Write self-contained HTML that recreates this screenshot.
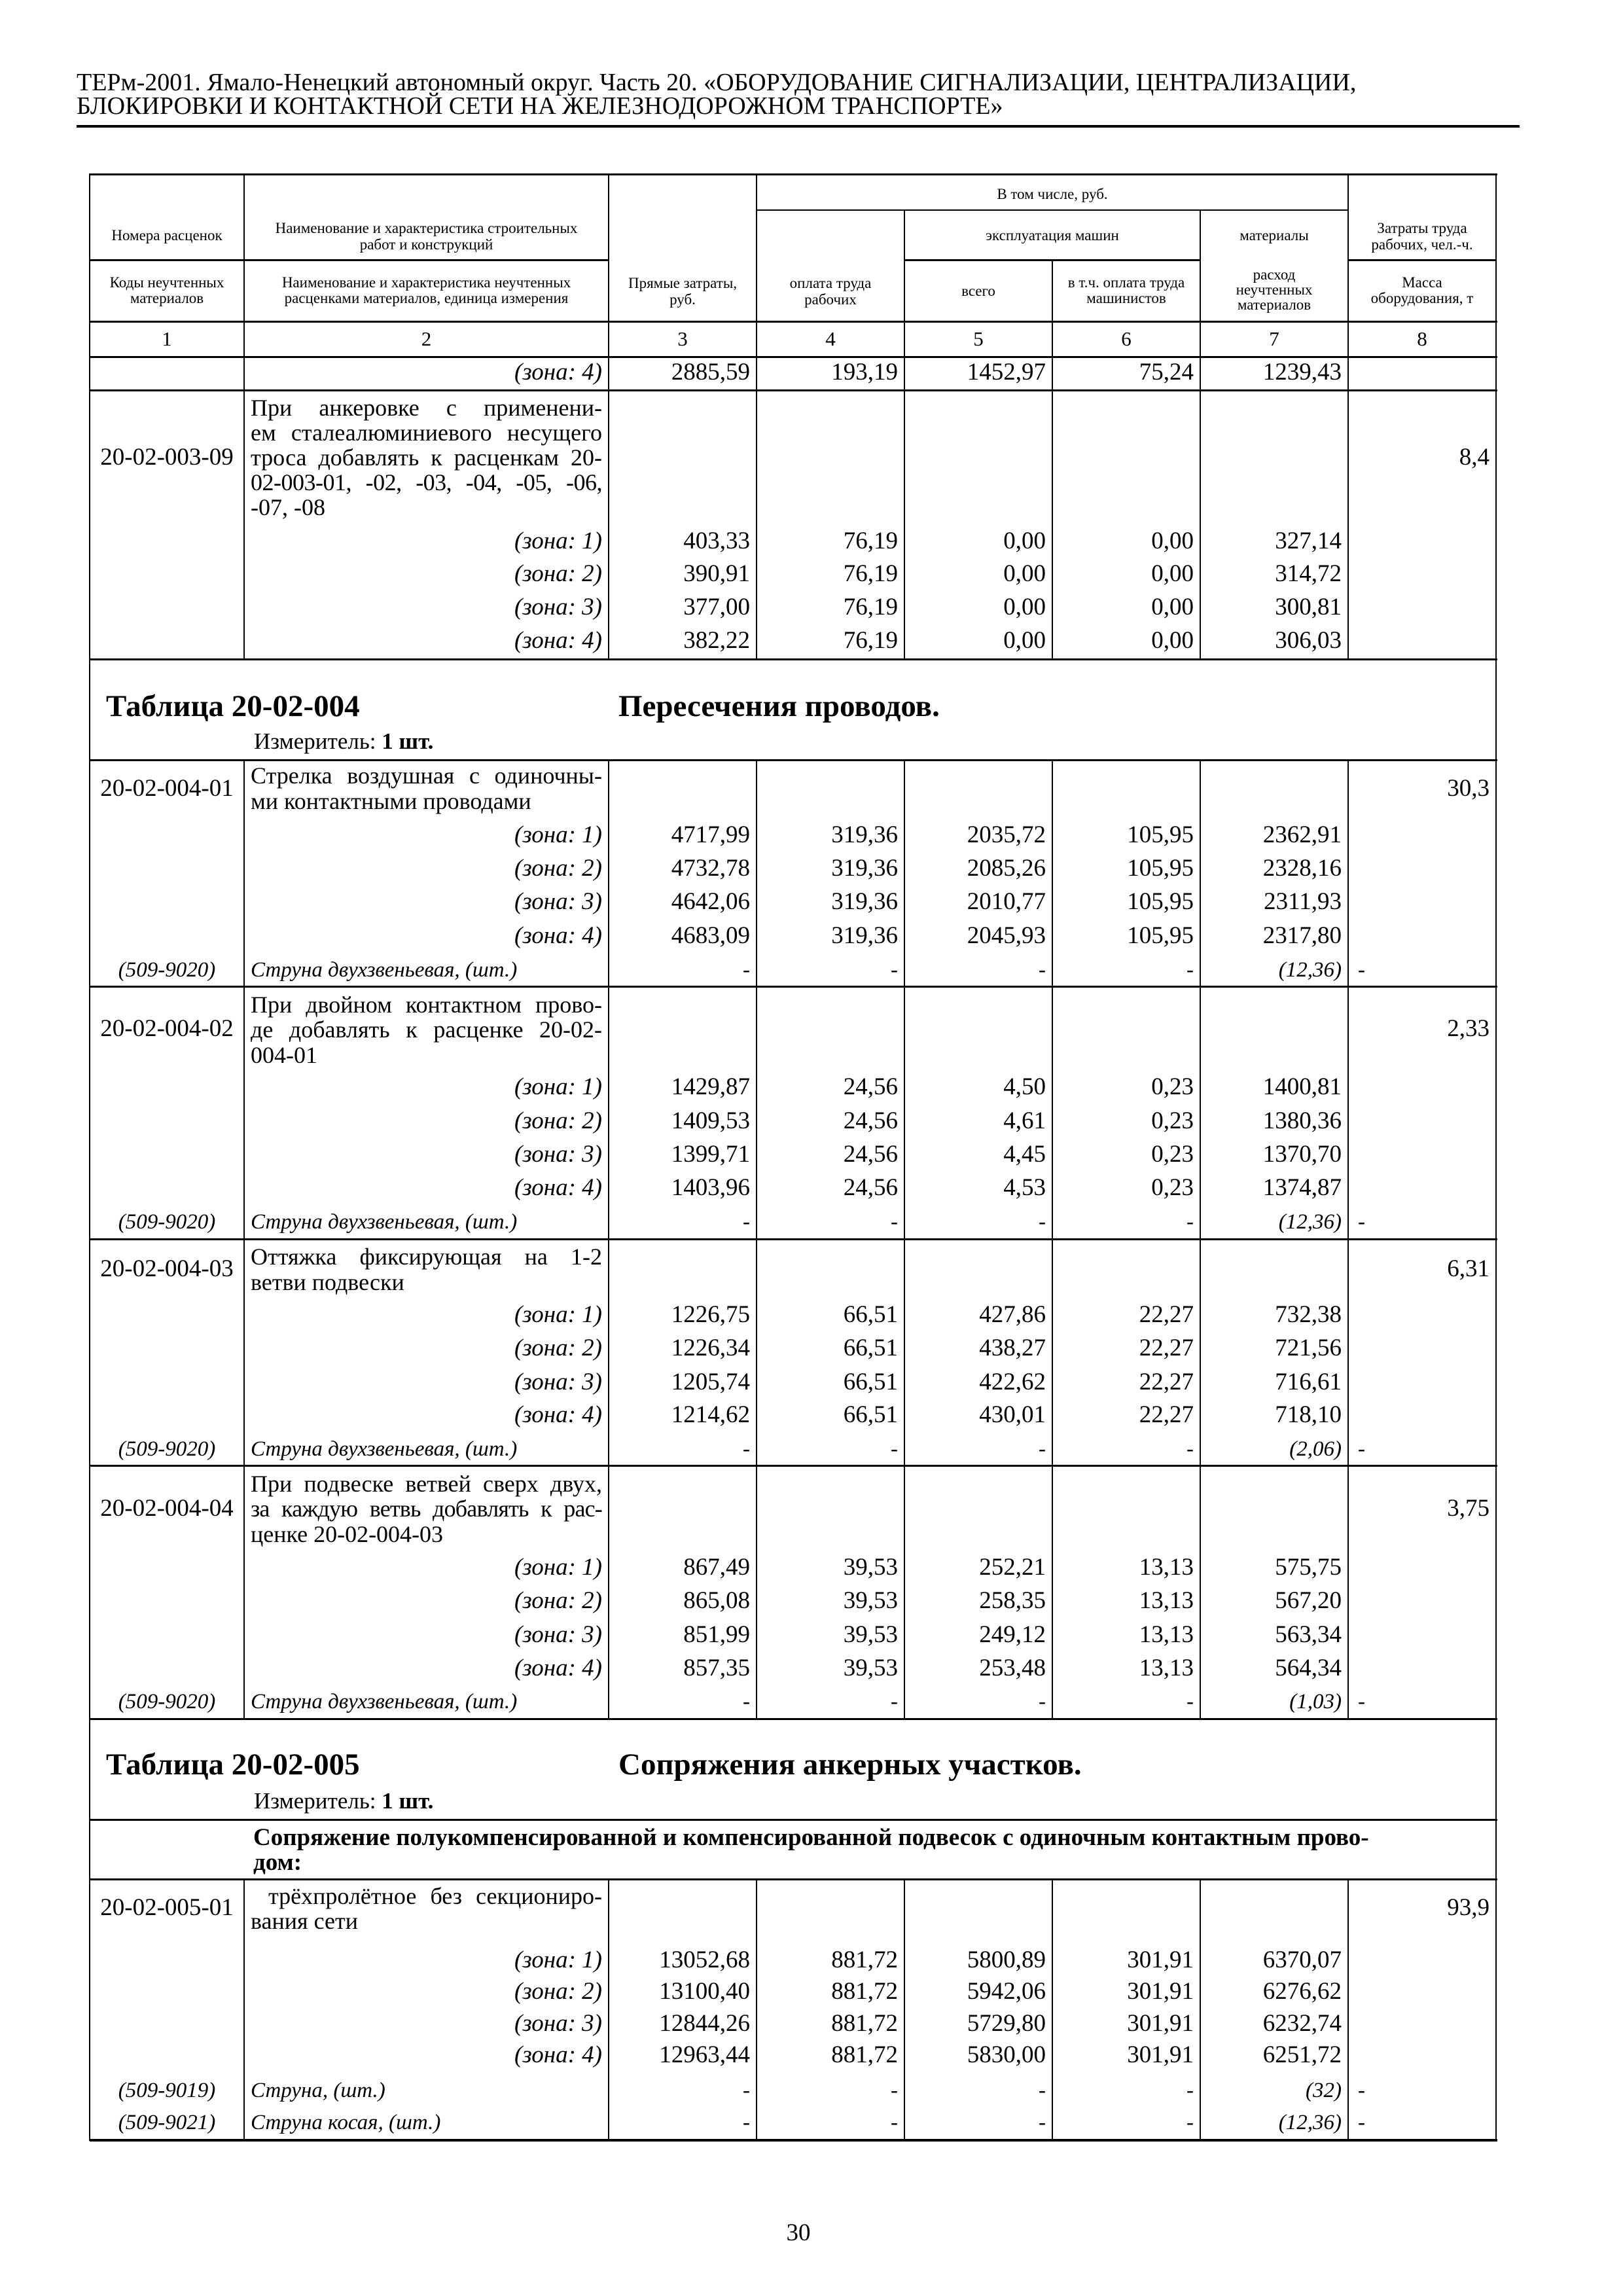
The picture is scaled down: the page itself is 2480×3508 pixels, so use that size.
<!DOCTYPE html>
<html><head><meta charset="utf-8">
<style>
body{margin:0;background:#fff}
#p{position:relative;width:2480px;height:3508px;background:#fff;font-family:"Liberation Serif","DejaVu Serif",serif;color:#000;overflow:hidden}
.h,.v{position:absolute;background:#000}
.v{width:2px}
.h{height:3px}
.r{position:absolute;left:0;width:2480px;height:40px;line-height:40px;font-size:37px}
.r>span{position:absolute;top:0;white-space:nowrap}
.s{font-size:33px;font-style:italic}
.c1{left:137px;width:236px;text-align:center}
.c2{left:383px;width:537px;text-align:right;font-style:italic}
.c2l{left:383px;width:537px;text-align:left}
.c3{left:930px;width:216px;text-align:right}
.c4{left:1156px;width:216px;text-align:right}
.c5{left:1382px;width:216px;text-align:right}
.c6{left:1608px;width:216px;text-align:right}
.c7{left:1834px;width:216px;text-align:right}
.c8{left:2060px;width:216px;text-align:right}
.c8l{left:2075px}
.d{position:absolute;left:383px;width:537px;font-size:36px;line-height:40px;height:40px;white-space:nowrap}
.j{text-align:justify;text-align-last:justify}
.hd{position:absolute;font-size:23px;line-height:25px;text-align:center}
.t{position:absolute;white-space:nowrap}
</style></head><body><div id="p">

<div class="t" style="left:117px;top:106px;font-size:38px;line-height:40px">ТЕРм-2001. Ямало-Ненецкий автономный округ. Часть 20. «ОБОРУДОВАНИЕ СИГНАЛИЗАЦИИ, ЦЕНТРАЛИЗАЦИИ,</div>
<div class="t" style="left:117px;top:142px;font-size:38px;line-height:40px">БЛОКИРОВКИ И КОНТАКТНОЙ СЕТИ НА ЖЕЛЕЗНОДОРОЖНОМ ТРАНСПОРТЕ»</div>
<div class="h" style="left:117px;top:191px;width:2205px;height:4px"></div>

<!-- header lines -->
<div class="h" style="left:137px;top:265px;width:2151px"></div>
<div class="h" style="left:1156px;top:320px;width:904px;height:2px"></div>
<div class="h" style="left:137px;top:396px;width:793px"></div>
<div class="h" style="left:1382px;top:396px;width:452px"></div>
<div class="h" style="left:2060px;top:396px;width:226px"></div>
<div class="h" style="left:137px;top:490px;width:2151px"></div>
<div class="h" style="left:137px;top:544px;width:2151px"></div>
<div class="h" style="left:137px;top:595px;width:2151px"></div>
<div class="h" style="left:137px;top:1006px;width:2151px"></div>
<div class="h" style="left:137px;top:1160px;width:2151px"></div>
<div class="h" style="left:137px;top:1506px;width:2151px"></div>
<div class="h" style="left:137px;top:1892px;width:2151px"></div>
<div class="h" style="left:137px;top:2238px;width:2151px"></div>
<div class="h" style="left:137px;top:2625px;width:2151px"></div>
<div class="h" style="left:137px;top:2779px;width:2151px"></div>
<div class="h" style="left:137px;top:2870px;width:2151px"></div>
<div class="h" style="left:137px;top:3268px;width:2151px;height:4px"></div>

<!-- outer verticals -->
<div class="v" style="left:136px;top:265px;height:3006px"></div>
<div class="v" style="left:2285px;top:265px;height:3006px"></div>
<!-- header verticals -->
<div class="v" style="left:372px;top:265px;height:280px"></div>
<div class="v" style="left:929px;top:265px;height:280px"></div>
<div class="v" style="left:1155px;top:265px;height:280px"></div>
<div class="v" style="left:1381px;top:320px;height:225px"></div>
<div class="v" style="left:1607px;top:396px;height:149px"></div>
<div class="v" style="left:1833px;top:320px;height:225px"></div>
<div class="v" style="left:2059px;top:265px;height:280px"></div>
<!-- data verticals blocks -->
<div class="v" style="left:372px;top:545px;height:462px"></div>
<div class="v" style="left:929px;top:545px;height:462px"></div>
<div class="v" style="left:1155px;top:545px;height:462px"></div>
<div class="v" style="left:1381px;top:545px;height:462px"></div>
<div class="v" style="left:1607px;top:545px;height:462px"></div>
<div class="v" style="left:1833px;top:545px;height:462px"></div>
<div class="v" style="left:2059px;top:545px;height:462px"></div>

<div class="v" style="left:372px;top:1161px;height:1465px"></div>
<div class="v" style="left:929px;top:1161px;height:1465px"></div>
<div class="v" style="left:1155px;top:1161px;height:1465px"></div>
<div class="v" style="left:1381px;top:1161px;height:1465px"></div>
<div class="v" style="left:1607px;top:1161px;height:1465px"></div>
<div class="v" style="left:1833px;top:1161px;height:1465px"></div>
<div class="v" style="left:2059px;top:1161px;height:1465px"></div>

<div class="v" style="left:372px;top:2871px;height:399px"></div>
<div class="v" style="left:929px;top:2871px;height:399px"></div>
<div class="v" style="left:1155px;top:2871px;height:399px"></div>
<div class="v" style="left:1381px;top:2871px;height:399px"></div>
<div class="v" style="left:1607px;top:2871px;height:399px"></div>
<div class="v" style="left:1833px;top:2871px;height:399px"></div>
<div class="v" style="left:2059px;top:2871px;height:399px"></div>

<!-- header text -->
<div class="hd" style="left:1156px;width:904px;top:284px">В том числе, руб.</div>
<div class="hd" style="left:137px;width:236px;top:347px">Номера расценок</div>
<div class="hd" style="left:373px;width:557px;top:336px">Наименование и характеристика строительных<br>работ и конструкций</div>
<div class="hd" style="left:1382px;width:452px;top:347px">эксплуатация машин</div>
<div class="hd" style="left:1834px;width:226px;top:347px">материалы</div>
<div class="hd" style="left:2060px;width:226px;top:336px">Затраты труда<br>рабочих, чел.-ч.</div>
<div class="hd" style="left:137px;width:236px;top:420px;line-height:24px">Коды неучтенных<br>материалов</div>
<div class="hd" style="left:373px;width:557px;top:420px;line-height:24px">Наименование и характеристика неучтенных<br>расценками материалов, единица измерения</div>
<div class="hd" style="left:930px;width:226px;top:420px">Прямые затраты,<br>руб.</div>
<div class="hd" style="left:1156px;width:226px;top:420px">оплата труда<br>рабочих</div>
<div class="hd" style="left:1382px;width:226px;top:432px">всего</div>
<div class="hd" style="left:1608px;width:226px;top:420px;line-height:24px">в т.ч. оплата труда<br>машинистов</div>
<div class="hd" style="left:1834px;width:226px;top:408px;line-height:23px">расход<br>неучтенных<br>материалов</div>
<div class="hd" style="left:2060px;width:226px;top:420px;line-height:24px">Масса<br>оборудования, т</div>
<div class="r" style="top:498px;font-size:31px"><span class="c1">1</span><span class="c1" style="left:373px;width:557px">2</span><span class="c1" style="left:930px;width:226px">3</span><span class="c1" style="left:1156px;width:226px">4</span><span class="c1" style="left:1382px;width:226px">5</span><span class="c1" style="left:1608px;width:226px">6</span><span class="c1" style="left:1834px;width:226px">7</span><span class="c1" style="left:2060px;width:226px">8</span></div>

<!-- zone 4 previous -->
<div class="r" style="top:549px"><span class="c2">(зона: 4)</span><span class="c3">2885,59</span><span class="c4">193,19</span><span class="c5">1452,97</span><span class="c6">75,24</span><span class="c7">1239,43</span></div>

<!-- 20-02-003-09 -->
<div class="d j" style="top:603px">При анкеровке с применени-</div>
<div class="d j" style="top:641px">ем сталеалюминиевого несущего</div>
<div class="d j" style="top:679px">троса добавлять к расценкам 20-</div>
<div class="d j" style="top:717px;letter-spacing:-0.5px">02-003-01, -02, -03, -04, -05, -06,</div>
<div class="d" style="top:755px">-07, -08</div>
<div class="r" style="top:679px"><span class="c1">20-02-003-09</span><span class="c8">8,4</span></div>
<div class="r" style="top:807px"><span class="c2">(зона: 1)</span><span class="c3">403,33</span><span class="c4">76,19</span><span class="c5">0,00</span><span class="c6">0,00</span><span class="c7">327,14</span></div>
<div class="r" style="top:857px"><span class="c2">(зона: 2)</span><span class="c3">390,91</span><span class="c4">76,19</span><span class="c5">0,00</span><span class="c6">0,00</span><span class="c7">314,72</span></div>
<div class="r" style="top:908px"><span class="c2">(зона: 3)</span><span class="c3">377,00</span><span class="c4">76,19</span><span class="c5">0,00</span><span class="c6">0,00</span><span class="c7">300,81</span></div>
<div class="r" style="top:959px"><span class="c2">(зона: 4)</span><span class="c3">382,22</span><span class="c4">76,19</span><span class="c5">0,00</span><span class="c6">0,00</span><span class="c7">306,03</span></div>

<!-- Table 20-02-004 -->
<div class="t" style="left:162px;top:1053px;font-size:47px;line-height:52px;font-weight:bold">Таблица 20-02-004</div>
<div class="t" style="left:945px;top:1053px;font-size:47px;line-height:52px;font-weight:bold">Пересечения проводов.</div>
<div class="t" style="left:388px;top:1114px;font-size:35px;line-height:38px">Измеритель: <b>1 шт.</b></div>

<!-- 004-01 -->
<div class="d j" style="top:1165px">Стрелка воздушная с одиночны-</div>
<div class="d" style="top:1204px">ми контактными проводами</div>
<div class="r" style="top:1185px"><span class="c1">20-02-004-01</span><span class="c8">30,3</span></div>
<div class="r" style="top:1256px"><span class="c2">(зона: 1)</span><span class="c3">4717,99</span><span class="c4">319,36</span><span class="c5">2035,72</span><span class="c6">105,95</span><span class="c7">2362,91</span></div>
<div class="r" style="top:1307px"><span class="c2">(зона: 2)</span><span class="c3">4732,78</span><span class="c4">319,36</span><span class="c5">2085,26</span><span class="c6">105,95</span><span class="c7">2328,16</span></div>
<div class="r" style="top:1358px"><span class="c2">(зона: 3)</span><span class="c3">4642,06</span><span class="c4">319,36</span><span class="c5">2010,77</span><span class="c6">105,95</span><span class="c7">2311,93</span></div>
<div class="r" style="top:1410px"><span class="c2">(зона: 4)</span><span class="c3">4683,09</span><span class="c4">319,36</span><span class="c5">2045,93</span><span class="c6">105,95</span><span class="c7">2317,80</span></div>
<div class="r s" style="top:1462px"><span class="c1">(509-9020)</span><span class="c2l">Струна двухзвеньевая, (шт.)</span><span class="c3" style="font-style:normal">-</span><span class="c4" style="font-style:normal">-</span><span class="c5" style="font-style:normal">-</span><span class="c6" style="font-style:normal">-</span><span class="c7">(12,36)</span><span class="c8l" style="font-style:normal">-</span></div>

<!-- 004-02 -->
<div class="d j" style="top:1515px">При двойном контактном прово-</div>
<div class="d j" style="top:1553px">де добавлять к расценке 20-02-</div>
<div class="d" style="top:1592px">004-01</div>
<div class="r" style="top:1552px"><span class="c1">20-02-004-02</span><span class="c8">2,33</span></div>
<div class="r" style="top:1641px"><span class="c2">(зона: 1)</span><span class="c3">1429,87</span><span class="c4">24,56</span><span class="c5">4,50</span><span class="c6">0,23</span><span class="c7">1400,81</span></div>
<div class="r" style="top:1693px"><span class="c2">(зона: 2)</span><span class="c3">1409,53</span><span class="c4">24,56</span><span class="c5">4,61</span><span class="c6">0,23</span><span class="c7">1380,36</span></div>
<div class="r" style="top:1744px"><span class="c2">(зона: 3)</span><span class="c3">1399,71</span><span class="c4">24,56</span><span class="c5">4,45</span><span class="c6">0,23</span><span class="c7">1370,70</span></div>
<div class="r" style="top:1795px"><span class="c2">(зона: 4)</span><span class="c3">1403,96</span><span class="c4">24,56</span><span class="c5">4,53</span><span class="c6">0,23</span><span class="c7">1374,87</span></div>
<div class="r s" style="top:1847px"><span class="c1">(509-9020)</span><span class="c2l">Струна двухзвеньевая, (шт.)</span><span class="c3" style="font-style:normal">-</span><span class="c4" style="font-style:normal">-</span><span class="c5" style="font-style:normal">-</span><span class="c6" style="font-style:normal">-</span><span class="c7">(12,36)</span><span class="c8l" style="font-style:normal">-</span></div>

<!-- 004-03 -->
<div class="d j" style="top:1900px">Оттяжка фиксирующая на 1-2</div>
<div class="d" style="top:1939px">ветви подвески</div>
<div class="r" style="top:1919px"><span class="c1">20-02-004-03</span><span class="c8">6,31</span></div>
<div class="r" style="top:1989px"><span class="c2">(зона: 1)</span><span class="c3">1226,75</span><span class="c4">66,51</span><span class="c5">427,86</span><span class="c6">22,27</span><span class="c7">732,38</span></div>
<div class="r" style="top:2040px"><span class="c2">(зона: 2)</span><span class="c3">1226,34</span><span class="c4">66,51</span><span class="c5">438,27</span><span class="c6">22,27</span><span class="c7">721,56</span></div>
<div class="r" style="top:2092px"><span class="c2">(зона: 3)</span><span class="c3">1205,74</span><span class="c4">66,51</span><span class="c5">422,62</span><span class="c6">22,27</span><span class="c7">716,61</span></div>
<div class="r" style="top:2142px"><span class="c2">(зона: 4)</span><span class="c3">1214,62</span><span class="c4">66,51</span><span class="c5">430,01</span><span class="c6">22,27</span><span class="c7">718,10</span></div>
<div class="r s" style="top:2194px"><span class="c1">(509-9020)</span><span class="c2l">Струна двухзвеньевая, (шт.)</span><span class="c3" style="font-style:normal">-</span><span class="c4" style="font-style:normal">-</span><span class="c5" style="font-style:normal">-</span><span class="c6" style="font-style:normal">-</span><span class="c7">(2,06)</span><span class="c8l" style="font-style:normal">-</span></div>

<!-- 004-04 -->
<div class="d j" style="top:2247px">При подвеске ветвей сверх двух,</div>
<div class="d j" style="top:2285px;letter-spacing:-0.8px">за каждую ветвь добавлять к рас-</div>
<div class="d" style="top:2324px">ценке 20-02-004-03</div>
<div class="r" style="top:2285px"><span class="c1">20-02-004-04</span><span class="c8">3,75</span></div>
<div class="r" style="top:2375px"><span class="c2">(зона: 1)</span><span class="c3">867,49</span><span class="c4">39,53</span><span class="c5">252,21</span><span class="c6">13,13</span><span class="c7">575,75</span></div>
<div class="r" style="top:2426px"><span class="c2">(зона: 2)</span><span class="c3">865,08</span><span class="c4">39,53</span><span class="c5">258,35</span><span class="c6">13,13</span><span class="c7">567,20</span></div>
<div class="r" style="top:2478px"><span class="c2">(зона: 3)</span><span class="c3">851,99</span><span class="c4">39,53</span><span class="c5">249,12</span><span class="c6">13,13</span><span class="c7">563,34</span></div>
<div class="r" style="top:2529px"><span class="c2">(зона: 4)</span><span class="c3">857,35</span><span class="c4">39,53</span><span class="c5">253,48</span><span class="c6">13,13</span><span class="c7">564,34</span></div>
<div class="r s" style="top:2580px"><span class="c1">(509-9020)</span><span class="c2l">Струна двухзвеньевая, (шт.)</span><span class="c3" style="font-style:normal">-</span><span class="c4" style="font-style:normal">-</span><span class="c5" style="font-style:normal">-</span><span class="c6" style="font-style:normal">-</span><span class="c7">(1,03)</span><span class="c8l" style="font-style:normal">-</span></div>

<!-- Table 20-02-005 -->
<div class="t" style="left:162px;top:2670px;font-size:47px;line-height:52px;font-weight:bold">Таблица 20-02-005</div>
<div class="t" style="left:945px;top:2670px;font-size:47px;line-height:52px;font-weight:bold">Сопряжения анкерных участков.</div>
<div class="t" style="left:388px;top:2733px;font-size:35px;line-height:38px">Измеритель: <b>1 шт.</b></div>
<div class="t" style="left:387px;top:2789px;font-size:37px;line-height:38px;font-weight:bold">Сопряжение полукомпенсированной и компенсированной подвесок с одиночным контактным прово-</div>
<div class="t" style="left:387px;top:2827px;font-size:37px;line-height:38px;font-weight:bold">дом:</div>

<!-- 005-01 -->
<div class="d j" style="top:2877px;left:410px;width:510px">трёхпролётное без секциониро-</div>
<div class="d" style="top:2915px">вания сети</div>
<div class="r" style="top:2895px"><span class="c1">20-02-005-01</span><span class="c8">93,9</span></div>
<div class="r" style="top:2975px"><span class="c2">(зона: 1)</span><span class="c3">13052,68</span><span class="c4">881,72</span><span class="c5">5800,89</span><span class="c6">301,91</span><span class="c7">6370,07</span></div>
<div class="r" style="top:3023px"><span class="c2">(зона: 2)</span><span class="c3">13100,40</span><span class="c4">881,72</span><span class="c5">5942,06</span><span class="c6">301,91</span><span class="c7">6276,62</span></div>
<div class="r" style="top:3072px"><span class="c2">(зона: 3)</span><span class="c3">12844,26</span><span class="c4">881,72</span><span class="c5">5729,80</span><span class="c6">301,91</span><span class="c7">6232,74</span></div>
<div class="r" style="top:3120px"><span class="c2">(зона: 4)</span><span class="c3">12963,44</span><span class="c4">881,72</span><span class="c5">5830,00</span><span class="c6">301,91</span><span class="c7">6251,72</span></div>
<div class="r s" style="top:3174px"><span class="c1">(509-9019)</span><span class="c2l">Струна, (шт.)</span><span class="c3" style="font-style:normal">-</span><span class="c4" style="font-style:normal">-</span><span class="c5" style="font-style:normal">-</span><span class="c6" style="font-style:normal">-</span><span class="c7">(32)</span><span class="c8l" style="font-style:normal">-</span></div>
<div class="r s" style="top:3223px"><span class="c1">(509-9021)</span><span class="c2l">Струна косая, (шт.)</span><span class="c3" style="font-style:normal">-</span><span class="c4" style="font-style:normal">-</span><span class="c5" style="font-style:normal">-</span><span class="c6" style="font-style:normal">-</span><span class="c7">(12,36)</span><span class="c8l" style="font-style:normal">-</span></div>

<div class="t" style="left:1160px;width:120px;text-align:center;top:3392px;font-size:37px;line-height:40px">30</div>
</div></body></html>
